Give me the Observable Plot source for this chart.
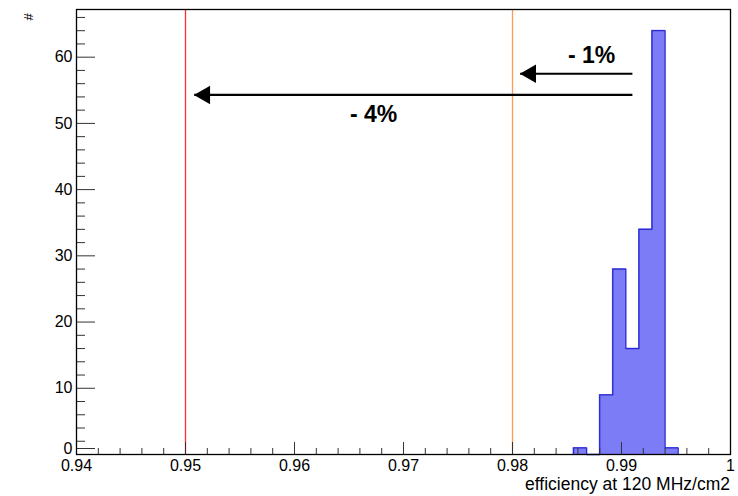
<!DOCTYPE html>
<html>
<head>
<meta charset="utf-8">
<script src="https://cdn.jsdelivr.net/npm/d3@7"></script>
<script src="https://cdn.jsdelivr.net/npm/@observablehq/plot@0.6"></script>
<style>
  html, body { margin: 0; padding: 0; background: #fff; }
  #chart { width: 738px; height: 496px; position: relative; }
  svg { font-family: "Liberation Sans", Arial, sans-serif; }
</style>
</head>
<body>
<div id="chart"></div>
<script>
// ---- data ----
const binLo   = [0.9856, 0.9868, 0.9880, 0.9892, 0.9904, 0.9916, 0.9928, 0.9940];
const binHi   = [0.9868, 0.9880, 0.9892, 0.9904, 0.9916, 0.9928, 0.9940, 0.9952];
const counts  = [1, 0, 9, 28, 16, 34, 64, 1];

const xMajorTicks  = [0.94, 0.95, 0.96, 0.97, 0.98, 0.99, 1.0];
const xTickLabels  = ["0.94", "0.95", "0.96", "0.97", "0.98", "0.99", "1"];
const xMinorTicks  = [0.942,0.944,0.946,0.948,0.952,0.954,0.956,0.958,0.962,0.964,0.966,0.968,0.972,0.974,0.976,0.978,0.982,0.984,0.986,0.988,0.992,0.994,0.996,0.998];
const yMajorTicks  = [10, 20, 30, 40, 50, 60];
const yZeroTick    = [0];
const yMinorTicks  = [2,4,6,8,12,14,16,18,22,24,26,28,32,34,36,38,42,44,46,48,52,54,56,58,62,64,66];

const cutValues = [0.95, 0.98];
const cutColors = ["#ff3030", "#ff9a50"];

const arrowFromX = [0.9910, 0.9910];
const arrowToX   = [0.9807, 0.9508];
const arrowY     = [57.5, 54.3];
const arrowLabels = ["- 1%", "- 4%"];
const labelX     = [0.98725, 0.96725];
const labelY     = [60.3, 51.3];

const xTitle = "efficiency at 120 MHz/cm2";
const yTitle = "#";

// ---- derived tables ----
const bars = counts.map((c, i) => ({x1: binLo[i], x2: binHi[i], y: c})).filter(d => d.y > 0);
const outline = [{x: binLo[0], y: 0}];
counts.forEach((c, i) => outline.push({x: binLo[i], y: c}));
outline.push({x: binHi[binHi.length - 1], y: 0});
const arrows = arrowToX.map((t, i) => ({x1: arrowFromX[i], x2: t, y: arrowY[i]}));
const labels = arrowLabels.map((t, i) => ({x: labelX[i], y: labelY[i], text: t}));
const cuts = cutValues.map((v, i) => ({x: v, color: cutColors[i]}));

const plot = Plot.plot({
  width: 738,
  height: 496,
  marginLeft: 76,
  marginRight: 8,
  marginTop: 9,
  marginBottom: 42,
  style: {fontFamily: "Liberation Sans, Arial, sans-serif", fontSize: "16px", color: "#000", background: "#fff"},
  x: {domain: [0.94, 1.0]},
  y: {domain: [0, 67.2]},
  marks: [
    Plot.rectY(bars, {x1: "x1", x2: "x2", y: "y", fill: "#7c7cf6", stroke: "#7c7cf6", strokeWidth: 0.8, insetLeft: 0, insetRight: 0}),
    Plot.line(outline, {x: "x", y: "y", curve: "step-after", stroke: "#2a2ad0", strokeWidth: 1.3}),
    Plot.ruleX(cuts, {x: "x", stroke: "color", strokeWidth: 1.3}),
    Plot.link(arrows, {x1: "x1", x2: "x2", y1: "y", y2: "y", stroke: "#000", strokeWidth: 2.2}),
    Plot.dot(arrows, {x: "x2", y: "y", symbol: "triangle", r: 6.9, fill: "#000", stroke: "none", rotate: -90, dx: 10.5}),
    Plot.text(labels, {x: "x", y: "y", text: "text", fontSize: 23, fontWeight: "bold", fill: "#000"}),
    Plot.axisX({ticks: xMinorTicks, tickSize: -6, tickFormat: () => "", label: null, stroke: "#333"}),
    Plot.axisX({ticks: xMajorTicks, tickSize: -12, tickPadding: 17, tickFormat: (d, i) => xTickLabels[i], fontSize: 16, label: null, stroke: "#333"}),
    Plot.axisY({ticks: yMinorTicks, tickSize: -9, tickFormat: () => "", label: null, stroke: "#333"}),
    Plot.axisY({ticks: yMajorTicks, tickSize: -19, tickPadding: 23, fontSize: 16, label: null, stroke: "#333"}),
    Plot.axisY({ticks: yZeroTick, tickSize: -19, tickPadding: 23, fontSize: 16, dy: -6, label: null, stroke: "#333"}),
    Plot.frame({stroke: "#000", strokeWidth: 1.3})
  ]
});

const svg = d3.select(plot);
// axis titles
svg.append("text").attr("x", 730).attr("y", 490).attr("text-anchor", "end")
  .attr("font-size", 17.5).attr("fill", "#000").text(xTitle);
svg.append("text").attr("transform", "translate(33,17) rotate(-90)").attr("text-anchor", "middle")
  .attr("font-size", 13).attr("fill", "#000").text(yTitle);

document.getElementById("chart").appendChild(plot);
</script>
</body>
</html>
